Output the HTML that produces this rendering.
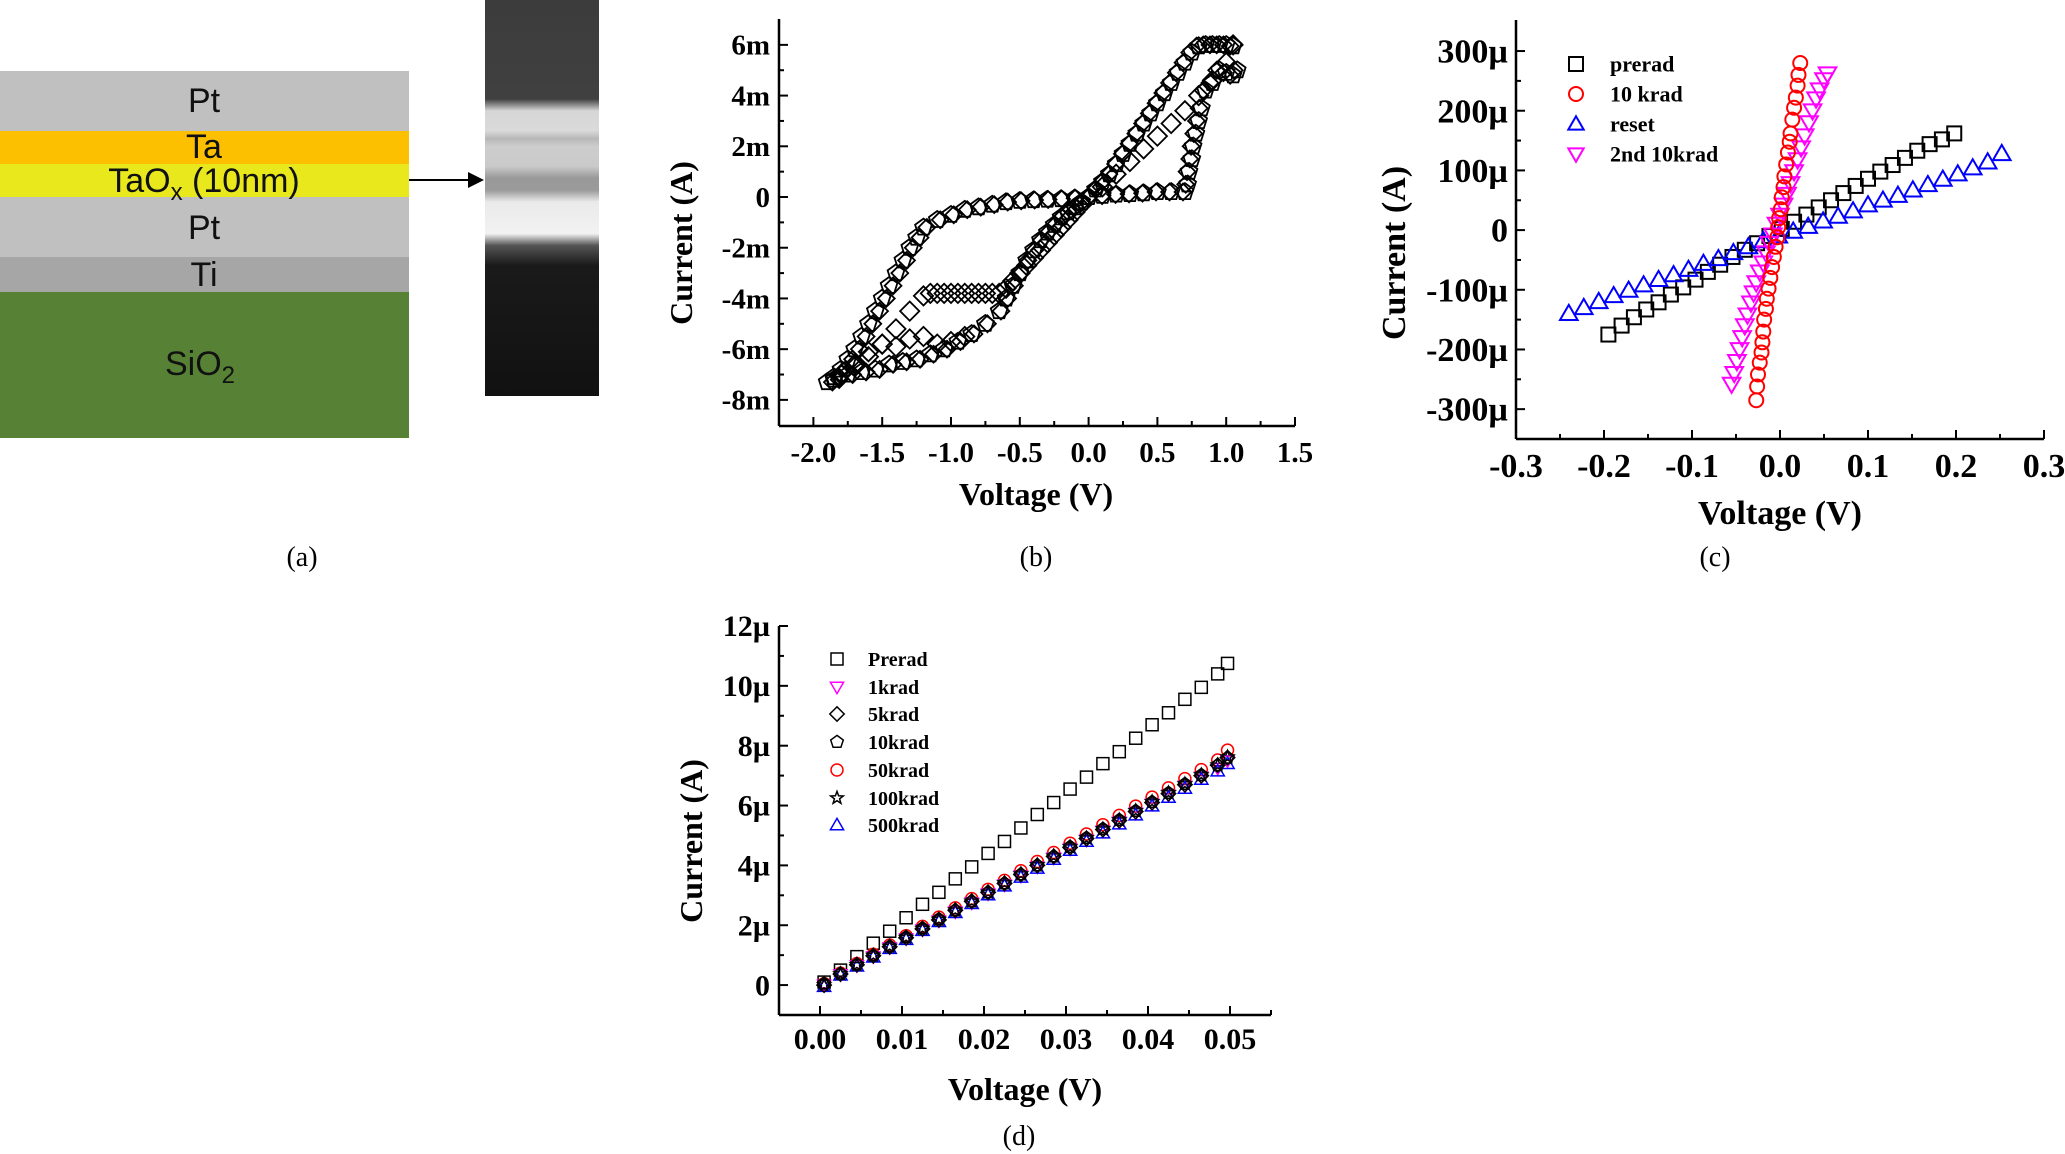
<!DOCTYPE html>
<html><head><meta charset="utf-8"><style>
html,body{margin:0;padding:0;background:#fff;}
svg{display:block;}
.tk{font-family:"Liberation Serif",serif;font-weight:bold;}
.lay{font-family:"Liberation Sans",sans-serif;font-size:34px;fill:#111;}
.cap{font-family:"Liberation Serif",serif;font-size:28px;}
</style></head><body>
<svg id="fig" width="2065" height="1154" viewBox="0 0 2065 1154" xmlns="http://www.w3.org/2000/svg">
<defs>
<linearGradient id="tem" x1="0" y1="0" x2="0" y2="1">
<stop offset="0" stop-color="#3c3c3c"/><stop offset="0.25" stop-color="#404040"/>
<stop offset="0.28" stop-color="#d6d6d6"/><stop offset="0.33" stop-color="#dadada"/>
<stop offset="0.35" stop-color="#b8b8b8"/><stop offset="0.37" stop-color="#cdcdcd"/>
<stop offset="0.42" stop-color="#cacaca"/><stop offset="0.45" stop-color="#999"/>
<stop offset="0.48" stop-color="#9a9a9a"/><stop offset="0.51" stop-color="#eaeaea"/>
<stop offset="0.59" stop-color="#f2f2f2"/><stop offset="0.62" stop-color="#555"/>
<stop offset="0.67" stop-color="#1a1a1a"/><stop offset="1" stop-color="#111"/>
</linearGradient>
</defs>
<g>
<rect x="0" y="71" width="409" height="60" fill="#c0c0c0"/>
<rect x="0" y="131" width="409" height="33" fill="#fdc000"/>
<rect x="0" y="164" width="409" height="33" fill="#e8e81c"/>
<rect x="0" y="197" width="409" height="60" fill="#c0c0c0"/>
<rect x="0" y="257" width="409" height="35" fill="#a6a6a6"/>
<rect x="0" y="292" width="409" height="146" fill="#578235"/>
<text class="lay" x="204" y="112" text-anchor="middle">Pt</text>
<text class="lay" x="204" y="158" text-anchor="middle">Ta</text>
<text class="lay" x="204" y="192" text-anchor="middle">TaO<tspan font-size="24" dy="8">x</tspan><tspan dy="-8"> (10nm)</tspan></text>
<text class="lay" x="204" y="239" text-anchor="middle">Pt</text>
<text class="lay" x="204" y="286" text-anchor="middle">Ti</text>
<text class="lay" x="200" y="375" text-anchor="middle">SiO<tspan font-size="24" dy="8">2</tspan></text>
<line x1="409" y1="180" x2="470" y2="180" stroke="#000" stroke-width="2"/>
<polygon points="468,172 484,180 468,188" fill="#000"/>
<rect x="485" y="0" width="114" height="396" fill="url(#tem)"/>
<text class="cap" x="302" y="566" text-anchor="middle">(a)</text>
</g>
<g id="pb"></g>
<g id="pc"></g>
<g id="pd"></g>
<text class="cap" x="1036" y="566" text-anchor="middle">(b)</text>
<text class="cap" x="1715" y="566" text-anchor="middle">(c)</text>
<text class="cap" x="1019" y="1145" text-anchor="middle">(d)</text>
</svg>
<script>
// ---- Panel (b) data (V, mA) ----
const bOuterV=[0,0.05,0.1,0.15,0.2,0.25,0.3,0.35,0.4,0.45,0.5,0.55,0.6,0.65,0.7,0.75,0.8,0.85,0.9,0.95,1.0,1.05,1.08,1.05,1.0,0.95,0.9,0.85,0.82,0.8,0.78,0.76,0.75,0.73,0.72,0.7,0.6,0.5,0.4,0.3,0.2,0.1,0,-0.1,-0.2,-0.3,-0.4,-0.5,-0.6,-0.7,-0.8,-0.9,-1.0,-1.1,-1.2,-1.25,-1.3,-1.35,-1.4,-1.45,-1.5,-1.55,-1.6,-1.65,-1.7,-1.75,-1.8,-1.85,-1.9,-1.85,-1.75,-1.65,-1.55,-1.45,-1.35,-1.25,-1.15,-1.05,-0.95,-0.85,-0.75,-0.65,-0.6,-0.55,-0.5,-0.45,-0.4,-0.35,-0.3,-0.25,-0.2,-0.15,-0.1,-0.05];
const bOuterI=[0,0.3,0.6,0.9,1.3,1.7,2.1,2.5,2.9,3.3,3.7,4.1,4.5,4.9,5.3,5.7,5.95,6.0,6.0,6.0,6.0,5.95,5.0,4.8,4.9,5.0,4.5,4.2,3.5,3.0,2.5,2.0,1.5,1.0,0.5,0.2,0.2,0.2,0.15,0.12,0.1,0.05,0,-0.05,-0.08,-0.1,-0.12,-0.15,-0.2,-0.3,-0.4,-0.5,-0.7,-0.9,-1.2,-1.6,-2.0,-2.5,-3.0,-3.5,-4.0,-4.5,-5.0,-5.5,-6.0,-6.4,-6.8,-7.1,-7.3,-7.2,-7.0,-6.9,-6.8,-6.6,-6.5,-6.4,-6.2,-6.0,-5.7,-5.4,-5.0,-4.5,-4.0,-3.5,-3.0,-2.5,-2.1,-1.7,-1.4,-1.1,-0.8,-0.6,-0.4,-0.2];
const bInnerV=[-0.05,-0.1,-0.15,-0.2,-0.25,-0.3,-0.35,-0.4,-0.45,-0.5,-0.55,-0.6,-0.65,-0.7,-0.75,-0.8,-0.85,-0.9,-0.95,-1.0,-1.05,-1.1,-1.15,-1.2,-1.3,-1.4,-1.5,-1.6,-1.7,-1.8,-1.7,-1.6,-1.5,-1.4,-1.3,-1.2,-1.1,-1.0,-0.9,0.1,0.2,0.3,0.4,0.5,0.6,0.7,0.8,0.9,1.0,1.05];
const bInnerI=[-0.3,-0.6,-0.9,-1.2,-1.5,-1.8,-2.1,-2.4,-2.7,-3.0,-3.3,-3.6,-3.8,-3.8,-3.8,-3.8,-3.8,-3.8,-3.8,-3.8,-3.8,-3.8,-3.8,-3.9,-4.5,-5.2,-5.8,-6.3,-6.7,-7.0,-6.6,-6.1,-5.8,-5.9,-5.6,-5.5,-5.8,-5.7,-5.5,0.4,0.9,1.4,1.9,2.4,2.9,3.4,4.0,4.6,5.3,6.0];
const bXTicks=[-2.0,-1.5,-1.0,-0.5,0.0,0.5,1.0,1.5];
const bXLabels=["-2.0","-1.5","-1.0","-0.5","0.0","0.5","1.0","1.5"];
const bYTicks=[-8,-6,-4,-2,0,2,4,6];
const bYLabels=["-8m","-6m","-4m","-2m","0","2m","4m","6m"];
// ---- Panel (c) data (V, µA) ----
const cPreradV=[-0.195,-0.18,-0.166,-0.152,-0.138,-0.124,-0.11,-0.096,-0.082,-0.068,-0.054,-0.04,-0.026,-0.012,0.002,0.016,0.03,0.044,0.058,0.072,0.086,0.1,0.114,0.128,0.142,0.156,0.17,0.184,0.198];
const cPreradI=[-175,-160,-146,-133,-121,-108,-96,-83,-70,-58,-45,-33,-22,-10,2,14,26,38,50,62,74,86,98,109,121,133,144,152,162];
const c10kV=[-0.027,-0.026,-0.025,-0.023,-0.021,-0.020,-0.019,-0.018,-0.016,-0.015,-0.013,-0.011,-0.009,-0.007,-0.005,-0.003,-0.002,-0.001,0.001,0.002,0.004,0.005,0.007,0.009,0.011,0.012,0.014,0.016,0.018,0.020,0.021,0.023];
const c10kI=[-285,-262,-242,-222,-205,-188,-170,-150,-132,-115,-98,-80,-62,-45,-28,-12,5,20,35,55,72,90,110,130,148,162,185,205,222,242,260,280];
const cResetV=[-0.24,-0.223,-0.206,-0.189,-0.172,-0.155,-0.138,-0.121,-0.104,-0.087,-0.07,-0.053,-0.036,-0.019,-0.002,0.015,0.032,0.049,0.066,0.083,0.1,0.117,0.134,0.151,0.168,0.185,0.202,0.219,0.236,0.252];
const cResetI=[-140,-130,-120,-110,-101,-92,-83,-75,-66,-56,-48,-38,-28,-18,-10,-2,6,15,23,32,42,50,58,67,76,85,94,104,114,128];
const c2ndV=[-0.055,-0.052,-0.049,-0.046,-0.043,-0.040,-0.037,-0.033,-0.030,-0.027,-0.023,-0.019,-0.016,-0.012,-0.008,-0.004,0.000,0.004,0.008,0.012,0.016,0.020,0.024,0.028,0.033,0.037,0.041,0.045,0.050,0.054];
const c2ndI=[-258,-240,-220,-200,-180,-160,-142,-122,-105,-88,-70,-55,-38,-22,-8,10,25,42,60,78,98,118,138,158,180,200,220,235,252,262];
const cXTicks=[-0.3,-0.2,-0.1,0.0,0.1,0.2,0.3];
const cXLabels=["-0.3","-0.2","-0.1","0.0","0.1","0.2","0.3"];
const cYTicks=[-300,-200,-100,0,100,200,300];
const cYLabels=["-300µ","-200µ","-100µ","0","100µ","200µ","300µ"];
// ---- Panel (d) data (V, µA) ----
const dV=[0.0005,0.0025,0.0045,0.0065,0.0085,0.0105,0.0125,0.0145,0.0165,0.0185,0.0205,0.0225,0.0245,0.0265,0.0285,0.0305,0.0325,0.0345,0.0365,0.0385,0.0405,0.0425,0.0445,0.0465,0.0485,0.0497];
const dPrerad=[0.1,0.5,0.95,1.4,1.8,2.25,2.7,3.1,3.55,3.95,4.4,4.8,5.25,5.7,6.1,6.55,6.95,7.4,7.8,8.25,8.7,9.1,9.55,9.95,10.4,10.75];
const d1k=[0.0,0.35,0.65,0.95,1.25,1.55,1.85,2.15,2.45,2.75,3.05,3.35,3.65,3.95,4.25,4.55,4.85,5.15,5.45,5.75,6.05,6.35,6.65,6.95,7.25,7.5];
const d5k=[0.0,0.37,0.68,0.98,1.28,1.58,1.88,2.18,2.5,2.8,3.1,3.4,3.7,4.0,4.3,4.6,4.9,5.2,5.5,5.8,6.1,6.4,6.7,7.0,7.35,7.6];
const d10k=[0.05,0.38,0.69,0.99,1.29,1.6,1.9,2.2,2.5,2.8,3.1,3.4,3.7,4.0,4.3,4.62,4.92,5.22,5.52,5.82,6.12,6.42,6.72,7.02,7.35,7.6];
const d50k=[0.05,0.4,0.72,1.03,1.34,1.65,1.96,2.27,2.58,2.89,3.2,3.5,3.82,4.13,4.43,4.74,5.05,5.36,5.67,5.98,6.28,6.59,6.9,7.2,7.52,7.85];
const d100k=[0.0,0.37,0.68,0.99,1.29,1.59,1.89,2.19,2.5,2.8,3.1,3.41,3.71,4.01,4.31,4.61,4.91,5.21,5.51,5.82,6.12,6.42,6.72,7.02,7.35,7.62];
const d500k=[-0.05,0.33,0.63,0.93,1.22,1.52,1.82,2.12,2.42,2.72,3.01,3.31,3.6,3.9,4.2,4.5,4.8,5.08,5.38,5.68,5.98,6.27,6.57,6.87,7.15,7.4];
const dXTicks=[0.00,0.01,0.02,0.03,0.04,0.05];
const dXLabels=["0.00","0.01","0.02","0.03","0.04","0.05"];
const dYTicks=[0,2,4,6,8,10,12];
const dYLabels=["0","2µ","4µ","6µ","8µ","10µ","12µ"];

const NS="http://www.w3.org/2000/svg";
function mk(tag,attrs,parent){const e=document.createElementNS(NS,tag);for(const k in attrs)e.setAttribute(k,attrs[k]);parent.appendChild(e);return e;}
function scales(c){return {sx:v=>c.L+(v-c.xmin)/(c.xmax-c.xmin)*(c.R-c.L),sy:v=>c.B-(v-c.ymin)/(c.ymax-c.ymin)*(c.B-c.T)};}
function axes(g,c,xt,xl,yt,yl,xminor,yminor){
  const s=scales(c);
  let a=mk('line',{x1:c.L,y1:c.T,x2:c.L,y2:c.B,stroke:'#000','stroke-width':2.5},g);
  
  
  a=mk('line',{x1:c.L,y1:c.B,x2:c.R,y2:c.B,stroke:'#000','stroke-width':2.5},g);
  
  
  xt.forEach((v,i)=>{const x=s.sx(v);
    mk('line',{x1:x,y1:c.B,x2:x,y2:c.B-9,stroke:'#000','stroke-width':2},g);
    const t=mk('text',{x:x,y:c.xly,'text-anchor':'middle','font-size':c.fs,class:'tk'},g);t.textContent=xl[i];
    
    });
  xminor.forEach(v=>{const x=s.sx(v);mk('line',{x1:x,y1:c.B,x2:x,y2:c.B-5,stroke:'#000','stroke-width':2},g);});
  yt.forEach((v,i)=>{const y=s.sy(v);
    mk('line',{x1:c.L,y1:y,x2:c.L+9,y2:y,stroke:'#000','stroke-width':2},g);
    const t=mk('text',{x:c.ylx,y:y+c.fs*0.34,'text-anchor':'end','font-size':c.fs,class:'tk'},g);t.textContent=yl[i];
    
    });
  yminor.forEach(v=>{const y=s.sy(v);mk('line',{x1:c.L,y1:y,x2:c.L+5,y2:y,stroke:'#000','stroke-width':2},g);});
  let t=mk('text',{x:c.xtx,y:c.xty,'text-anchor':'middle','font-size':c.tfs,class:'tk'},g);t.textContent='Voltage (V)';
  
  
  t=mk('text',{x:0,y:0,'text-anchor':'middle','font-size':c.tfs,class:'tk',transform:`translate(${c.ytx},${c.yty}) rotate(-90)`},g);t.textContent='Current (A)';
  
  
  return s;
}
function marker(g,type,x,y,r,col,sw){
  let e;
  if(type==='sq')e=mk('rect',{x:x-r,y:y-r,width:2*r,height:2*r},g);
  else if(type==='ci')e=mk('circle',{cx:x,cy:y,r:r},g);
  else if(type==='tu')e=mk('polygon',{points:`${x},${y-r*1.1} ${x+r*1.1},${y+r*0.8} ${x-r*1.1},${y+r*0.8}`},g);
  else if(type==='td')e=mk('polygon',{points:`${x},${y+r*1.1} ${x+r*1.1},${y-r*0.8} ${x-r*1.1},${y-r*0.8}`},g);
  else if(type==='di')e=mk('polygon',{points:`${x},${y-r*1.2} ${x+r*1.2},${y} ${x},${y+r*1.2} ${x-r*1.2},${y}`},g);
  else if(type==='pe'){let p=[];for(let k=0;k<5;k++){const a=-Math.PI/2+k*2*Math.PI/5;p.push((x+r*1.1*Math.cos(a)).toFixed(1)+','+(y+r*1.1*Math.sin(a)).toFixed(1));}e=mk('polygon',{points:p.join(' ')},g);}
  else {let p=[];for(let k=0;k<10;k++){const a=-Math.PI/2+k*Math.PI/5,rr=k%2?r*0.45:r*1.1;p.push((x+rr*Math.cos(a)).toFixed(1)+','+(y+rr*Math.sin(a)).toFixed(1));}e=mk('polygon',{points:p.join(' ')},g);}
  e.setAttribute('fill','none');e.setAttribute('stroke',col);e.setAttribute('stroke-width',sw);
  return e;
}
function series(g,s,xs,ys,type,r,col,sw,name){
  const sg=mk('g',{},g);
  
  
  xs.forEach((v,i)=>{const m=marker(sg,type,s.sx(v),s.sy(ys[i]),r,col,sw);
    
    });
}
function legend(g,items,mx,tx,ys,r,fs,sw){
  items.forEach((it,i)=>{const lg=mk('g',{},g);
    
    
    marker(lg,it[1],mx,ys[i],r,it[2],sw);
    const t=mk('text',{x:tx,y:ys[i]+fs*0.35,'font-size':fs,class:'tk'},lg);t.textContent=it[0];});
}
function rng(a,b,st){const o=[];for(let v=a;v<=b+1e-9;v+=st)o.push(+v.toFixed(6));return o;}

// Panel b
const cb={L:779,R:1295,T:19,B:426,xmin:-2.25,xmax:1.5,ymin:-9.03,ymax:7.02,fs:29,tfs:32,xly:462,ylx:770,xtx:1036,xty:505,ytx:692,yty:243};
const gb=document.getElementById('pb');
const sb=axes(gb,cb,bXTicks,bXLabels,bYTicks,bYLabels,rng(-1.75,1.25,0.5),rng(-7,5,2));
series(gb,sb,bOuterV,bOuterI,'pe',8,'#000',1.8,'series-b-outer');
series(gb,sb,bOuterV.map(v=>v*0.98),bOuterI,'di',7,'#000',1.8,'series-b-outer-diamond');
series(gb,sb,bInnerV,bInnerI,'di',8,'#000',1.8,'series-b-inner');

// Panel c
const cc={L:1516,R:2044,T:20,B:439,xmin:-0.3,xmax:0.3,ymin:-350,ymax:352,fs:34,tfs:34,xly:477,ylx:1508,xtx:1780,xty:524,ytx:1405,yty:253};
const gc=document.getElementById('pc');
const sc=axes(gc,cc,cXTicks,cXLabels,cYTicks,cYLabels,rng(-0.25,0.25,0.1),rng(-250,250,100));
series(gc,sc,cPreradV,cPreradI,'sq',7,'#000',2,'series-c-prerad');
series(gc,sc,cResetV,cResetI,'tu',8,'#0000ff',2,'series-c-reset');
series(gc,sc,c2ndV,c2ndI,'td',8,'#ff00ff',2,'series-c-2nd-10krad');
series(gc,sc,c10kV,c10kI,'ci',7,'#ff0000',2,'series-c-10krad');
legend(gc,[['prerad','sq','#000'],['10 krad','ci','#ff0000'],['reset','tu','#0000ff'],['2nd 10krad','td','#ff00ff']],1576,1610,[64,94,124,154],7,22,2);

// Panel d
const cd={L:779,R:1271,T:626,B:1015,xmin:-0.005,xmax:0.055,ymin:-1.0,ymax:12.0,fs:30,tfs:32,xly:1049,ylx:770,xtx:1025,xty:1100,ytx:702,yty:841};
const gd=document.getElementById('pd');
const sd=axes(gd,cd,dXTicks,dXLabels,dYTicks,dYLabels,rng(0.005,0.055,0.01),rng(1,11,2));
series(gd,sd,dV,dPrerad,'sq',6,'#000',1.5,'series-d-prerad');
series(gd,sd,dV,d50k,'ci',6,'#ff0000',1.5,'series-d-50krad');
series(gd,sd,dV,d1k,'td',6,'#ff00ff',1.5,'series-d-1krad');
series(gd,sd,dV,d500k,'tu',6,'#0000ff',1.5,'series-d-500krad');
series(gd,sd,dV,d5k,'di',6,'#000',1.5,'series-d-5krad');
series(gd,sd,dV,d10k,'pe',6,'#000',1.5,'series-d-10krad');
series(gd,sd,dV,d100k,'st',6,'#000',1.5,'series-d-100krad');
legend(gd,[['Prerad','sq','#000'],['1krad','td','#ff00ff'],['5krad','di','#000'],['10krad','pe','#000'],['50krad','ci','#ff0000'],['100krad','st','#000'],['500krad','tu','#0000ff']],837,868,[659,687,714,742,770,798,825],6,20,1.5);
</script>
</body></html>
